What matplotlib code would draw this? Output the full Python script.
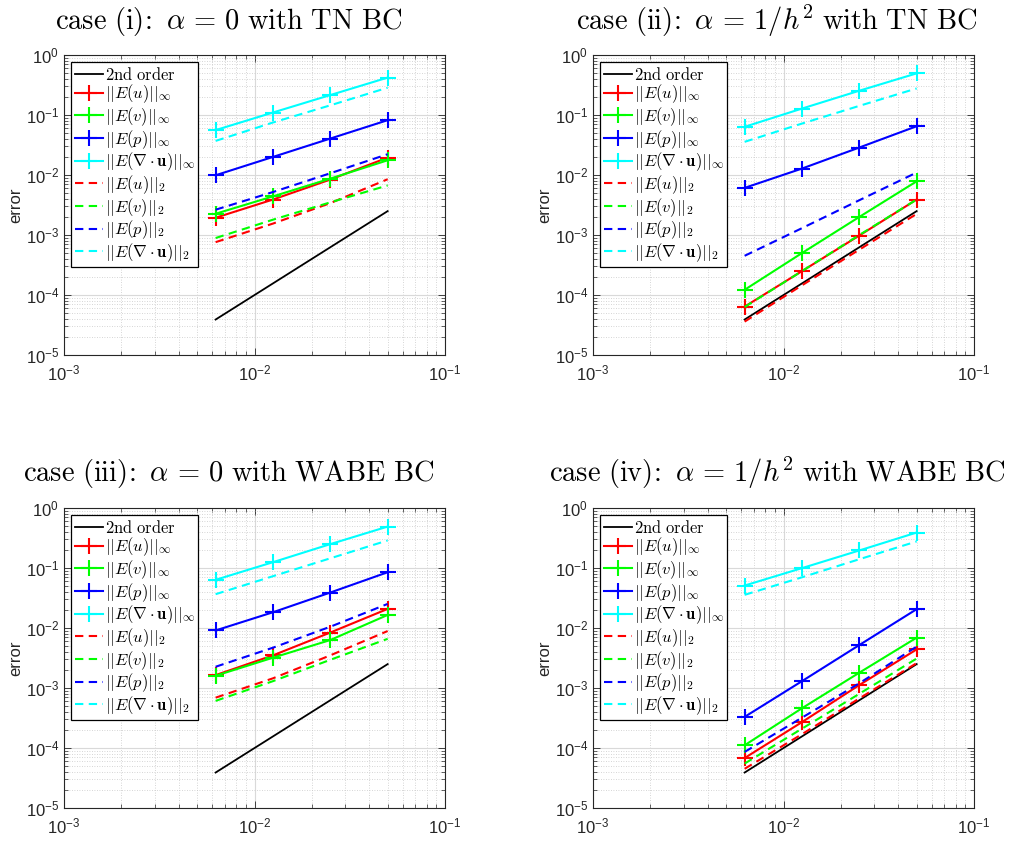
import matplotlib
matplotlib.use("Agg")
import matplotlib.pyplot as plt
from matplotlib.ticker import LogLocator, NullFormatter

plt.rcParams['font.family'] = ['Liberation Sans', 'DejaVu Sans']
plt.rcParams['mathtext.fontset'] = 'cm'

# mesh sizes
h = [0.00625, 0.0125, 0.025, 0.05]
# 2nd order reference line
order2 = [3.9e-5, 1.56e-4, 6.25e-4, 2.5e-3]

# case (i)
c1_u_inf = [1.94e-3, 3.9e-3, 8.4e-3, 1.95e-2]
c1_v_inf = [2.26e-3, 4.4e-3, 8.7e-3, 1.76e-2]
c1_p_inf = [9.9e-3, 2.0e-2, 4.05e-2, 8.2e-2]
c1_d_inf = [5.6e-2, 1.1e-1, 2.15e-1, 4.2e-1]
c1_u_2 = [7.6e-4, 1.55e-3, 3.4e-3, 8.5e-3]
c1_v_2 = [8.9e-4, 1.8e-3, 3.5e-3, 6.7e-3]
c1_p_2 = [2.64e-3, 5.2e-3, 1.07e-2, 2.22e-2]
c1_d_2 = [3.7e-2, 7.5e-2, 1.45e-1, 2.85e-1]

# case (ii)
c2_u_inf = [6.4e-5, 2.5e-4, 9.8e-4, 3.9e-3]
c2_v_inf = [1.22e-4, 5.0e-4, 2.0e-3, 7.85e-3]
c2_p_inf = [6.1e-3, 1.28e-2, 2.87e-2, 6.5e-2]
c2_d_inf = [6.35e-2, 1.28e-1, 2.54e-1, 4.94e-1]
c2_u_2 = [3.6e-5, 1.45e-4, 5.7e-4, 2.25e-3]
c2_v_2 = [6.3e-5, 2.5e-4, 1.0e-3, 3.9e-3]
c2_p_2 = [4.5e-4, 1.3e-3, 3.8e-3, 1.1e-2]
c2_d_2 = [3.57e-2, 7.2e-2, 1.42e-1, 2.77e-1]

# case (iii)
c3_u_inf = [1.64e-3, 3.5e-3, 8.4e-3, 2.08e-2]
c3_v_inf = [1.6e-3, 3.2e-3, 6.3e-3, 1.65e-2]
c3_p_inf = [9.1e-3, 1.83e-2, 3.9e-2, 8.5e-2]
c3_d_inf = [6.35e-2, 1.25e-1, 2.5e-1, 4.9e-1]
c3_u_2 = [6.9e-4, 1.45e-3, 3.5e-3, 8.9e-3]
c3_v_2 = [6.1e-4, 1.3e-3, 2.95e-3, 6.6e-3]
c3_p_2 = [2.26e-3, 4.7e-3, 1.05e-2, 2.52e-2]
c3_d_2 = [3.66e-2, 7.3e-2, 1.45e-1, 2.88e-1]

# case (iv)
c4_u_inf = [6.8e-5, 2.7e-4, 1.12e-3, 4.4e-3]
c4_v_inf = [1.11e-4, 4.6e-4, 1.8e-3, 6.9e-3]
c4_p_inf = [3.3e-4, 1.3e-3, 5.2e-3, 2.06e-2]
c4_d_inf = [5.1e-2, 9.95e-2, 1.96e-1, 3.9e-1]
c4_u_2 = [4.5e-5, 1.7e-4, 6.7e-4, 2.6e-3]
c4_v_2 = [5.5e-5, 2.1e-4, 8.0e-4, 3.1e-3]
c4_p_2 = [8.6e-5, 3.2e-4, 1.2e-3, 4.9e-3]
c4_d_2 = [3.57e-2, 7.0e-2, 1.4e-1, 2.77e-1]

titles = [r'$\mathrm{case\ (i)\!:}\ \alpha\,=\,0\ \mathrm{with\ TN\ BC}$',
          r'$\mathrm{case\ (ii)\!:}\ \alpha\,=\,1/h^2\ \mathrm{with\ TN\ BC}$',
          r'$\mathrm{case\ (iii)\!:}\ \alpha\,=\,0\ \mathrm{with\ WABE\ BC}$',
          r'$\mathrm{case\ (iv)\!:}\ \alpha\,=\,1/h^2\ \mathrm{with\ WABE\ BC}$']

labels = [r'$\mathrm{2nd\ order}$',
          r'$||E(u)||_\infty$', r'$||E(v)||_\infty$', r'$||E(p)||_\infty$',
          r'$||E(\nabla\cdot\mathbf{u})||_\infty$',
          r'$||E(u)||_2$', r'$||E(v)||_2$', r'$||E(p)||_2$',
          r'$||E(\nabla\cdot\mathbf{u})||_2$']

cases = [
    [c1_u_inf, c1_v_inf, c1_p_inf, c1_d_inf, c1_u_2, c1_v_2, c1_p_2, c1_d_2],
    [c2_u_inf, c2_v_inf, c2_p_inf, c2_d_inf, c2_u_2, c2_v_2, c2_p_2, c2_d_2],
    [c3_u_inf, c3_v_inf, c3_p_inf, c3_d_inf, c3_u_2, c3_v_2, c3_p_2, c3_d_2],
    [c4_u_inf, c4_v_inf, c4_p_inf, c4_d_inf, c4_u_2, c4_v_2, c4_p_2, c4_d_2],
]
colors = ['#ff0000', '#00ff00', '#0000ff', '#00ffff']

W, H = 1013, 841
fig = plt.figure(figsize=(W / 100, H / 100), dpi=100)

# axes boxes in pixels: (left, top, right, bottom)
boxes = [(64, 55, 445, 355), (593, 55, 974, 355),
         (64, 508, 445, 808), (593, 508, 974, 808)]
title_pos = [(229, 21), (777, 21), (229, 473), (777, 473)]

axc = '#262626'
for k in range(4):
    l, t, r, b = boxes[k]
    ax = fig.add_axes([l / W, 1 - b / H, (r - l) / W, (b - t) / H])
    ax.set_xscale('log')
    ax.set_yscale('log')
    ax.plot(h, order2, color='k', lw=1.3, label=labels[0])
    data = cases[k]
    for i in range(4):
        ax.plot(h, data[i], color=colors[i], lw=1.5, marker='+', ms=12, mew=1.5,
                label=labels[1 + i])
    for i in range(4):
        ax.plot(h, data[4 + i], color=colors[i], lw=1.5, ls=(0, (4, 2.6)),
                label=labels[5 + i])
    ax.set_xlim(1e-3, 1e-1)
    ax.set_ylim(1e-5, 1e0)
    ax.xaxis.set_major_locator(LogLocator(base=10, numticks=10))
    ax.yaxis.set_major_locator(LogLocator(base=10, numticks=10))
    ax.xaxis.set_minor_locator(LogLocator(base=10, subs=range(2, 10), numticks=20))
    ax.yaxis.set_minor_locator(LogLocator(base=10, subs=range(2, 10), numticks=20))
    ax.xaxis.set_minor_formatter(NullFormatter())
    ax.yaxis.set_minor_formatter(NullFormatter())
    ax.grid(True, which='major', color='#d9d9d9', lw=0.8, ls='-')
    ax.grid(True, which='minor', color='#c8c8c8', lw=0.6, ls=(0, (1, 2)))
    ax.set_axisbelow(True)
    ax.tick_params(which='both', direction='in', top=True, right=True,
                   colors=axc, labelsize=12)
    ax.tick_params(which='major', length=5, width=0.6)
    ax.tick_params(which='minor', length=3, width=0.5)
    ax.tick_params(axis='x', pad=6)
    for s in ax.spines.values():
        s.set_color(axc)
        s.set_linewidth(0.8)
    ax.set_ylabel('error', fontsize=12, color=axc, labelpad=2)
    leg = ax.legend(loc='upper left', fontsize=11.9, frameon=True, fancybox=False,
                    edgecolor='k', framealpha=1, handlelength=1.7,
                    handletextpad=0.12, labelspacing=0.0, borderpad=0.2,
                    borderaxespad=0.45)
    leg.get_frame().set_linewidth(0.9)
    tx, ty = title_pos[k]
    fig.text(tx / W, 1 - ty / H, titles[k], fontsize=20.5, ha='center', va='center')

fig.savefig('out.png', dpi=100)
